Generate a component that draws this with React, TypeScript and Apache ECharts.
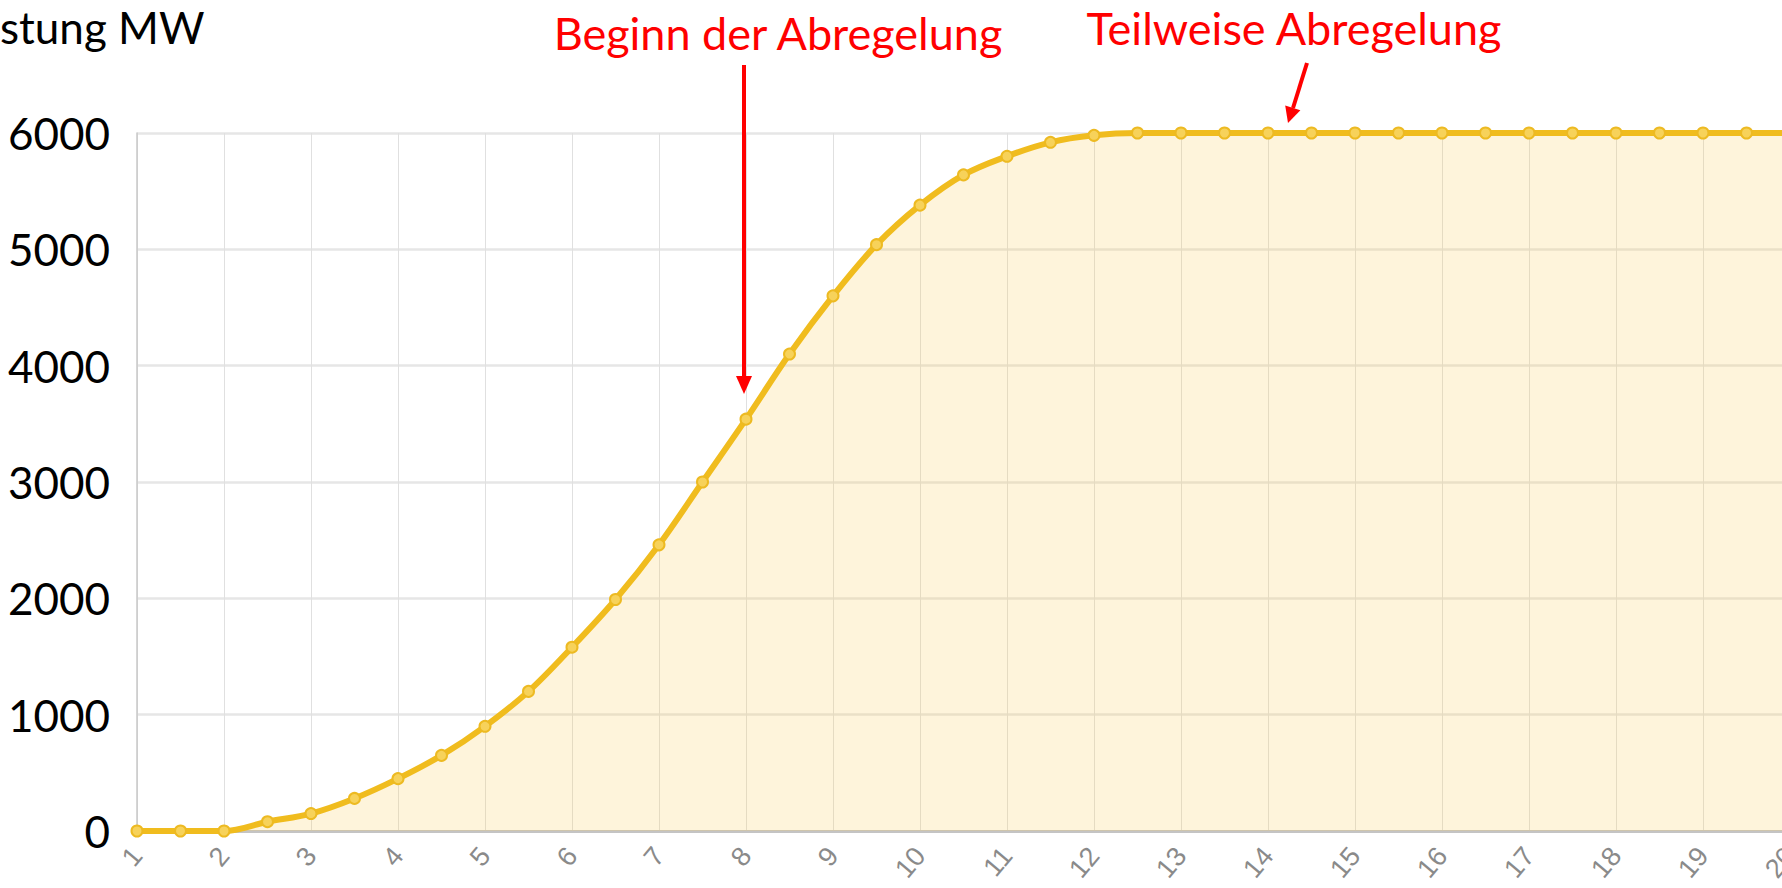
import React, { useEffect, useRef } from "react";
import * as echarts from "echarts";

const xValues = [1, 1.5, 2, 2.5, 3, 3.5, 4, 4.5, 5, 5.5, 6, 6.5, 7, 7.5, 8, 8.5, 9, 9.5, 10, 10.5, 11, 11.5, 12, 12.5, 13, 13.5, 14, 14.5, 15, 15.5, 16, 16.5, 17, 17.5, 18, 18.5, 19, 19.5, 20];
const powerMW = [0, 0, 0, 80, 150, 280, 450, 650, 900, 1200, 1580, 1990, 2460, 3000, 3540, 4100, 4600, 5040, 5380, 5640, 5800, 5920, 5980, 6000, 6000, 6000, 6000, 6000, 6000, 6000, 6000, 6000, 6000, 6000, 6000, 6000, 6000, 6000, 6000];
const yTicks = [0, 1000, 2000, 3000, 4000, 5000, 6000];
const yAxisTitle = "stung MW";
const annotationStart = "Beginn der Abregelung";
const annotationPartial = "Teilweise Abregelung";

const BIG_FONT = "Lato, 'Open Sans', sans-serif";

export default function App() {
  const ref = useRef<HTMLDivElement>(null);
  useEffect(() => {
    document.body.style.margin = "0";
    if (!ref.current) return;
    const chart = echarts.init(ref.current, undefined, { renderer: "svg" });
    const data = xValues.map((x, i) => [x, powerMW[i]]);
    chart.setOption({
      animation: false,
      backgroundColor: "#ffffff",
      grid: {
        left: 137,
        top: 133,
        width: 1653,
        bottom: 57,
        containLabel: false,
        outerBoundsMode: "none",
      },
      xAxis: {
        type: "value",
        min: 1,
        max: 20,
        interval: 1,
        axisLine: { show: true, onZero: false, lineStyle: { color: "#c4c4c4", width: 3 } },
        axisTick: { show: false },
        axisLabel: {
          rotate: 50,
          margin: 20,
          color: "#8a8a8a",
          fontSize: 27,
          fontFamily: "'Liberation Sans Narrow', 'Liberation Sans', sans-serif",
        },
        splitLine: { show: true, lineStyle: { color: "#e0e0e0", width: 1 } },
      },
      yAxis: {
        type: "value",
        min: yTicks[0],
        max: yTicks[yTicks.length - 1],
        interval: 1000,
        axisLine: { show: true, lineStyle: { color: "#c8c8c8", width: 1.5 } },
        axisTick: { show: false },
        axisLabel: {
          margin: 27,
          color: "#000000",
          fontSize: 44,
          fontFamily: BIG_FONT,
          formatter: (v: number) => String(v),
        },
        splitLine: { show: true, lineStyle: { color: "#e6e6e6", width: 2.5 } },
      },
      series: [
        {
          type: "line",
          data,
          smooth: 0.35,
          symbol: "circle",
          symbolSize: 11,
          showSymbol: true,
          lineStyle: { color: "#F0BC1E", width: 6 },
          itemStyle: { color: "#F7D25A", borderColor: "#EDBA22", borderWidth: 2 },
          areaStyle: { color: "rgba(248,200,80,0.29)" },
          z: 3,
        },
      ],
      graphic: [
        {
          type: "text",
          left: 0,
          top: 5,
          style: { text: yAxisTitle, fontSize: 44, fontFamily: BIG_FONT, fill: "#000000" },
        },
        {
          type: "text",
          x: 778,
          y: 33,
          style: {
            text: annotationStart,
            fontSize: 45,
            fontFamily: BIG_FONT,
            fill: "#ff0000",
            textAlign: "center",
            textVerticalAlign: "middle",
          },
        },
        {
          type: "text",
          x: 1294,
          y: 28,
          style: {
            text: annotationPartial,
            fontSize: 45,
            fontFamily: BIG_FONT,
            fill: "#ff0000",
            textAlign: "center",
            textVerticalAlign: "middle",
          },
        },
        {
          type: "line",
          shape: { x1: 744, y1: 65, x2: 744, y2: 378 },
          style: { stroke: "#ff0000", lineWidth: 4 },
          z: 10,
        },
        {
          type: "polygon",
          shape: { points: [[736, 376], [752, 376], [744, 394]] },
          style: { fill: "#ff0000" },
          z: 10,
        },
        {
          type: "line",
          shape: { x1: 1307, y1: 63, x2: 1293, y2: 108 },
          style: { stroke: "#ff0000", lineWidth: 4 },
          z: 10,
        },
        {
          type: "polygon",
          shape: { points: [[1300.4, 110.2], [1285.2, 105.4], [1288, 123]] },
          style: { fill: "#ff0000" },
          z: 10,
        },
      ],
    });
    return () => chart.dispose();
  }, []);
  return <div ref={ref} style={{ width: 1782, height: 888 }} />;
}
